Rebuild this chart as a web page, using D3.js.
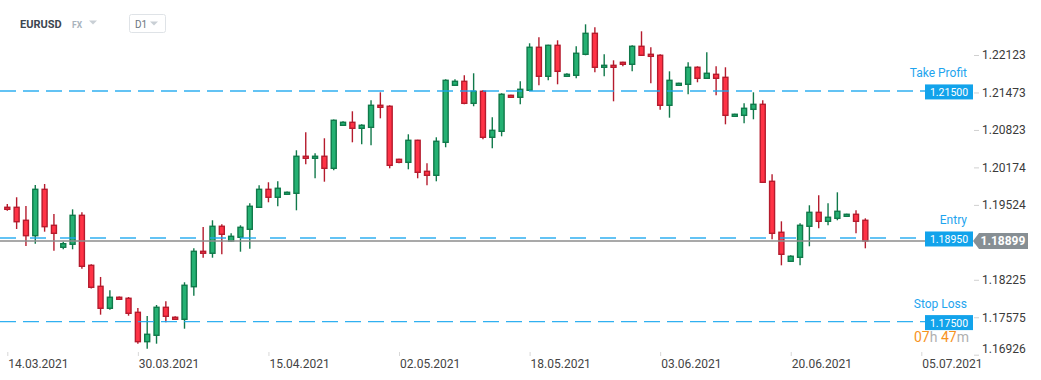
<!DOCTYPE html>
<html>
<head>
<meta charset="utf-8">
<script src="https://cdn.jsdelivr.net/npm/d3@7"></script>
<style>
  body { margin: 0; background: #fff; }
  svg { display: block; font-family: Roboto, 'Noto Sans', sans-serif; }
</style>
</head>
<body>
<div id="chart"></div>
<script>
// daily candles, EURUSD
const opens = [1.19482, 1.19482, 1.19257, 1.18990, 1.19794, 1.19170, 1.18789, 1.18841, 1.19343, 1.18476,
    1.18112, 1.17731, 1.17922, 1.17904, 1.17661, 1.17152, 1.17263, 1.17748, 1.17575, 1.17540,
    1.18105, 1.18719, 1.18685, 1.19153, 1.18898, 1.18962, 1.19101, 1.19482, 1.19794, 1.19656,
    1.19708, 1.19725, 1.20367, 1.20332, 1.20367, 1.20158, 1.20904, 1.20956, 1.20852, 1.20869,
    1.21251, 1.21234, 1.20314, 1.20262, 1.20644, 1.20106, 1.20037, 1.20609, 1.21598, 1.21667,
    1.21285, 1.21494, 1.20696, 1.20800, 1.21424, 1.21390, 1.21511, 1.22257, 1.21754, 1.22291,
    1.21754, 1.21771, 1.22135, 1.22499, 1.21910, 1.21944, 1.21996, 1.21962, 1.22274, 1.22135,
    1.22118, 1.21251, 1.21598, 1.21615, 1.21910, 1.21719, 1.21788, 1.21736, 1.21060, 1.21077,
    1.21181, 1.21268, 1.19933, 1.19049, 1.18546, 1.18615, 1.19153, 1.19395, 1.19239, 1.19291,
    1.19326, 1.19361, 1.19257];
const highs = [1.19539, 1.19656, 1.19505, 1.19869, 1.19886, 1.19366, 1.18886, 1.19447, 1.19395, 1.18494,
    1.18274, 1.18043, 1.17935, 1.17927, 1.17736, 1.17597, 1.17788, 1.17852, 1.17592, 1.18182,
    1.18771, 1.19141, 1.19257, 1.19187, 1.19031, 1.19170, 1.19552, 1.19864, 1.19916, 1.19933,
    1.19756, 1.20471, 1.20783, 1.20418, 1.20679, 1.21005, 1.20973, 1.21147, 1.20921, 1.21338,
    1.21476, 1.21251, 1.20323, 1.20748, 1.20653, 1.20245, 1.20696, 1.21702, 1.21702, 1.21771,
    1.21806, 1.21511, 1.21043, 1.21459, 1.21433, 1.21667, 1.22326, 1.22430, 1.22300, 1.22378,
    1.21806, 1.22274, 1.22655, 1.22603, 1.22135, 1.22031, 1.22005, 1.22291, 1.22534, 1.22257,
    1.22135, 1.21840, 1.21641, 1.21996, 1.21927, 1.22170, 1.21927, 1.21910, 1.21103, 1.21285,
    1.21476, 1.21338, 1.20054, 1.19239, 1.18650, 1.19205, 1.19517, 1.19690, 1.19552, 1.19742,
    1.19370, 1.19430, 1.19291];
const lows = [1.19423, 1.19106, 1.18811, 1.18851, 1.19059, 1.18730, 1.18754, 1.18754, 1.18417, 1.18074,
    1.17620, 1.17707, 1.17878, 1.17602, 1.17117, 1.17030, 1.17117, 1.17488, 1.17531, 1.17377,
    1.17949, 1.18608, 1.18608, 1.18667, 1.18889, 1.18712, 1.18764, 1.19470, 1.19569, 1.19500,
    1.19699, 1.19430, 1.20228, 1.19985, 1.19926, 1.20124, 1.20892, 1.20609, 1.20575, 1.20557,
    1.21025, 1.20158, 1.20245, 1.20141, 1.19985, 1.19864, 1.19933, 1.20523, 1.21589, 1.21268,
    1.21234, 1.20661, 1.20505, 1.20713, 1.21381, 1.21268, 1.21499, 1.21598, 1.21684, 1.21615,
    1.21745, 1.21719, 1.22118, 1.21823, 1.21754, 1.21320, 1.21927, 1.21840, 1.22109, 1.21632,
    1.21175, 1.21036, 1.21589, 1.21442, 1.21650, 1.21710, 1.21424, 1.20921, 1.21048, 1.20939,
    1.21008, 1.19904, 1.18927, 1.18476, 1.18534, 1.18476, 1.18806, 1.19118, 1.19170, 1.19257,
    1.19317, 1.19031, 1.18771];
const closes = [1.19447, 1.19232, 1.18990, 1.19794, 1.19146, 1.19031, 1.18851, 1.19343, 1.18459, 1.18095,
    1.17731, 1.17922, 1.17887, 1.17644, 1.17152, 1.17280, 1.17748, 1.17592, 1.17540, 1.18130,
    1.18719, 1.18685, 1.19153, 1.19014, 1.18979, 1.19135, 1.19500, 1.19794, 1.19656, 1.19812,
    1.19742, 1.20367, 1.20332, 1.20367, 1.20158, 1.20991, 1.20956, 1.20852, 1.20904, 1.21251,
    1.21216, 1.20210, 1.20262, 1.20644, 1.20089, 1.20037, 1.20627, 1.21684, 1.21667, 1.21285,
    1.21494, 1.20696, 1.20817, 1.21442, 1.21390, 1.21528, 1.22257, 1.21754, 1.22291, 1.21840,
    1.21788, 1.22153, 1.22499, 1.21910, 1.21944, 1.21910, 1.21962, 1.22274, 1.22118, 1.22100,
    1.21251, 1.21684, 1.21632, 1.21910, 1.21719, 1.21806, 1.21719, 1.21077, 1.21095, 1.21199,
    1.21268, 1.19916, 1.19031, 1.18667, 1.18633, 1.19170, 1.19395, 1.19239, 1.19309, 1.19413,
    1.19361, 1.19239, 1.18899];

const dateTicks = ['14.03.2021', '30.03.2021', '15.04.2021', '02.05.2021', '18.05.2021', '03.06.2021', '20.06.2021', '05.07.2021'];
const dateTickIndex = [0, 14, 28, 42, 56, 70, 84, 98];
const priceTicks = [1.22123, 1.21473, 1.20823, 1.20174, 1.19524, 1.18874, 1.18225, 1.17575, 1.16926];

const orderNames = ['Take Profit', 'Entry', 'Stop Loss'];
const orderPrices = [1.21500, 1.18950, 1.17500];
const lastPrice = 1.18899;

let buildChart = function() {
    let width = 1041, height = 380;
    let plotRight = 973;

    let svg = d3.select('#chart').append('svg')
        .attr('width', width)
        .attr('height', height);

    let x = d3.scaleLinear().domain([0, 98]).range([7.3, 921.3]);
    let y = d3.scaleLinear().domain([1.16926, 1.22123]).range([354.7, 55]);

    let candles = opens.map(function(o, i) {
        return { i: i, o: o, h: highs[i], l: lows[i], c: closes[i], up: closes[i] >= o };
    });

    // header
    let head = svg.append('g');
    head.append('text').attr('x', 20).attr('y', 28)
        .attr('font-size', 11).attr('font-weight', 700).attr('fill', '#3c4650').text('EURUSD');
    head.append('text').attr('x', 72).attr('y', 28)
        .attr('font-size', 8.5).attr('font-weight', 700).attr('fill', '#a9b3bd').text('FX');
    head.append('path').attr('d', 'M89,20.5 L97,20.5 L93,24.5 Z').attr('fill', '#c9cfd5');
    head.append('rect').attr('x', 129.5).attr('y', 14.5).attr('width', 36).attr('height', 18).attr('rx', 2)
        .attr('fill', '#fff').attr('stroke', '#dfe3e7');
    head.append('text').attr('x', 135).attr('y', 27.5)
        .attr('font-size', 10).attr('fill', '#6b7680').text('D1');
    head.append('path').attr('d', 'M150,21.5 L158,21.5 L154,25.5 Z').attr('fill', '#c9cfd5');

    // candles
    let g = svg.append('g');
    let bw = 5;
    g.selectAll('line.wick').data(candles).enter().append('line')
        .attr('x1', d => x(d.i)).attr('x2', d => x(d.i))
        .attr('y1', d => y(d.h)).attr('y2', d => y(d.l))
        .attr('stroke', d => d.up ? '#10794a' : '#b51b2d')
        .attr('stroke-width', 1.4);
    g.selectAll('rect.body').data(candles).enter().append('rect')
        .attr('x', d => x(d.i) - bw / 2)
        .attr('y', d => y(Math.max(d.o, d.c)))
        .attr('width', bw)
        .attr('height', d => Math.max(1, Math.abs(y(d.o) - y(d.c))))
        .attr('fill', d => d.up ? '#25b173' : '#ff3346')
        .attr('stroke', d => d.up ? '#10794a' : '#b51b2d')
        .attr('stroke-width', 1.4);

    // last price line
    svg.append('line')
        .attr('x1', 0).attr('x2', plotRight)
        .attr('y1', y(lastPrice)).attr('y2', y(lastPrice))
        .attr('stroke', '#8c8c8c').attr('stroke-width', 1.5);

    // order lines
    orderPrices.forEach(function(p, k) {
        let yy = y(p);
        svg.append('line')
            .attr('x1', 0).attr('x2', plotRight)
            .attr('y1', yy).attr('y2', yy)
            .attr('stroke', '#19a7ef').attr('stroke-width', 1.4)
            .attr('stroke-opacity', 0.9)
            .attr('stroke-dasharray', orderNames[k] === 'Entry' ? '16,14' : '16,7');
        svg.append('rect')
            .attr('x', 925).attr('y', yy - 6.5).attr('width', 48).attr('height', 15)
            .attr('fill', '#12a3eb');
        svg.append('text')
            .attr('x', 949).attr('y', yy + 5)
            .attr('text-anchor', 'middle').attr('font-size', 10.5).attr('fill', '#fff')
            .text(d3.format('.5f')(p));
        svg.append('text')
            .attr('x', 967).attr('y', yy - 14)
            .attr('text-anchor', 'end').attr('font-size', 12).attr('fill', '#1ea4ee')
            .text(orderNames[k]);
    });

    // right axis
    let yAxis = d3.axisRight(y).tickValues(priceTicks).tickFormat(d3.format('.5f')).tickSize(5);
    let ya = svg.append('g').attr('transform', 'translate(974,0)').call(yAxis);
    ya.select('.domain').remove();
    ya.selectAll('line').attr('stroke', '#d0d0d0');
    ya.selectAll('text').attr('font-size', 12).attr('fill', '#3a3a3a').attr('font-family', 'Roboto');
    ya.selectAll('.tick').filter(d => d === priceTicks[priceTicks.length - 1])
        .select('text').attr('dy', '-0.15em');

    // last price label
    let ly = y(lastPrice);
    svg.append('path')
        .attr('d', 'M973,' + ly + ' L979,' + (ly - 8) + ' L1028,' + (ly - 8) + ' L1028,' + (ly + 8) + ' L979,' + (ly + 8) + ' Z')
        .attr('fill', '#878f94');
    svg.append('text')
        .attr('x', 1003).attr('y', ly + 4.5)
        .attr('text-anchor', 'middle').attr('font-size', 12).attr('font-weight', 700).attr('fill', '#fff')
        .text(d3.format('.5f')(lastPrice));

    // countdown
    let cd = svg.append('text').attr('x', 914).attr('y', 342).attr('font-size', 14);
    cd.append('tspan').attr('fill', '#f7931e').text('07');
    cd.append('tspan').attr('fill', '#b0b0b0').text('h ');
    cd.append('tspan').attr('fill', '#f7931e').text('47');
    cd.append('tspan').attr('fill', '#b0b0b0').text('m');

    // bottom axis
    let xAxis = d3.axisBottom(x).tickValues(dateTickIndex).tickFormat((d, i) => dateTicks[i]).tickSize(4);
    let xa = svg.append('g').attr('transform', 'translate(0,352)').call(xAxis);
    xa.select('.domain').remove();
    xa.selectAll('line').attr('stroke', '#d8d8d8');
    xa.selectAll('text').attr('font-size', 12).attr('fill', '#444').attr('font-family', 'Roboto')
        .attr('text-anchor', 'start').attr('x', 0.5);
}

buildChart();
</script>
</body>
</html>
